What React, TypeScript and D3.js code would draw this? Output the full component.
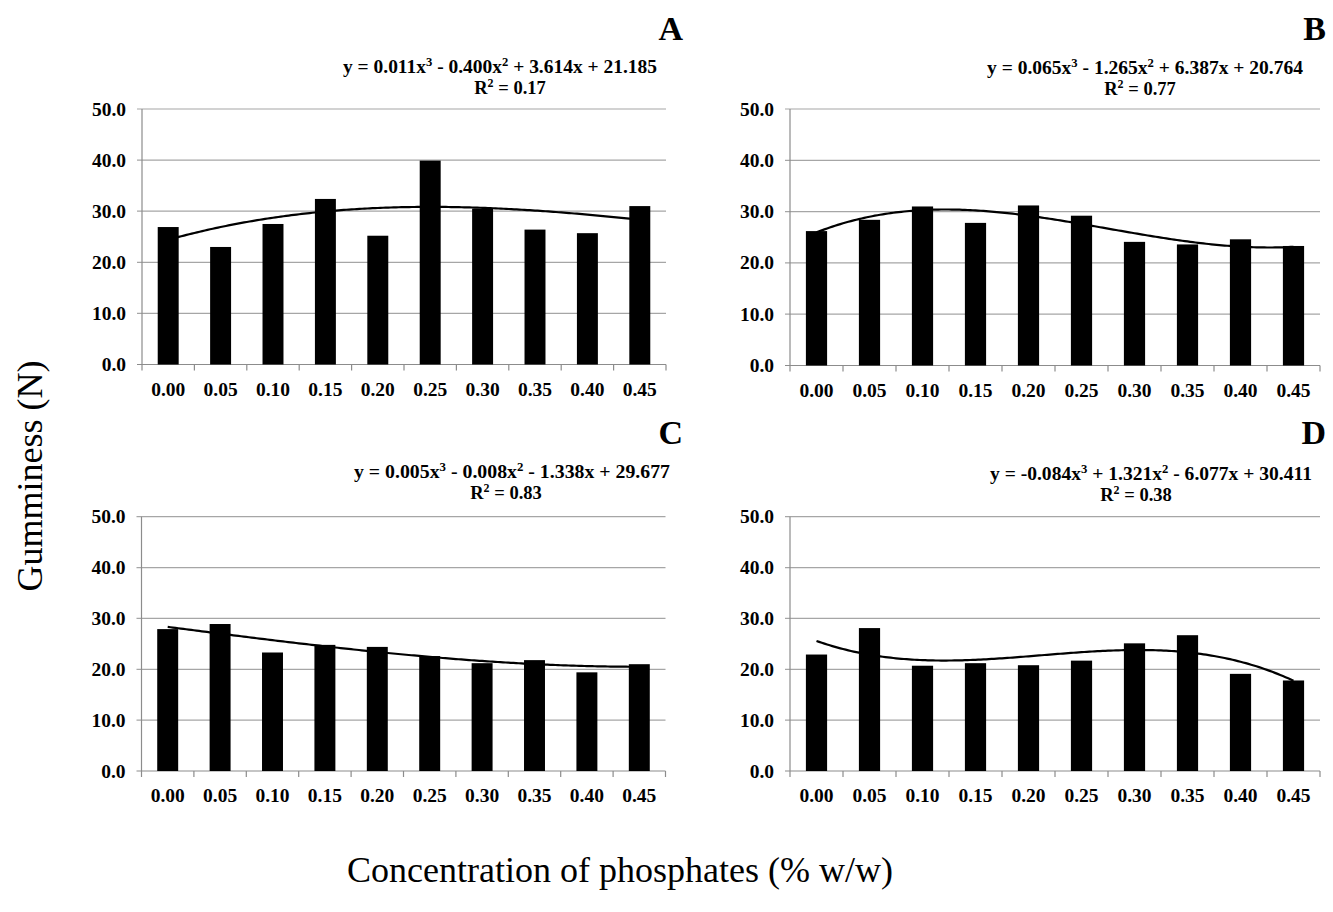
import React from "react";
import * as d3 from "d3";

const categories = ["0.00", "0.05", "0.10", "0.15", "0.20", "0.25", "0.30", "0.35", "0.40", "0.45"];
const yTicks = [0, 10, 20, 30, 40, 50];

const valuesA = [26.9, 23.0, 27.5, 32.4, 25.2, 39.9, 30.5, 26.4, 25.7, 31.0];
const valuesB = [26.2, 28.4, 31.0, 27.8, 31.2, 29.2, 24.1, 23.6, 24.6, 23.3];
const valuesC = [27.9, 28.9, 23.3, 24.8, 24.4, 22.6, 21.2, 21.8, 19.4, 21.0];
const valuesD = [22.9, 28.1, 20.7, 21.2, 20.8, 21.7, 25.1, 26.7, 19.1, 17.8];

// trendline coefficients [x^3, x^2, x, const], as printed in each panel
const coefA = [0.011, -0.4, 3.614, 21.185];
const coefB = [0.065, -1.265, 6.387, 20.764];
const coefC = [0.005, -0.008, -1.338, 29.677];
const coefD = [-0.084, 1.321, -6.077, 30.411];

const panelLetters = ["A", "B", "C", "D"];
const eqParts = [
  ["y = 0.011x", "3", " - 0.400x", "2", " + 3.614x + 21.185"],
  ["y = 0.065x", "3", " - 1.265x", "2", " + 6.387x + 20.764"],
  ["y = 0.005x", "3", " - 0.008x", "2", " - 1.338x + 29.677"],
  ["y = -0.084x", "3", " + 1.321x", "2", " - 6.077x + 30.411"],
];
const r2Labels = ["0.17", "0.77", "0.83", "0.38"];

const seriesValues = [valuesA, valuesB, valuesC, valuesD];
const coefs = [coefA, coefB, coefC, coefD];

// layout (positions only)
const layouts = [
  { left: 142, right: 666, top: 109, bottom: 364.5, eqX: 500, eqY: 73, eqW: 314, r2X: 510, r2Y: 94, letterX: 683, letterY: 40 },
  { left: 790, right: 1320, top: 109, bottom: 365.5, eqX: 1145, eqY: 74, eqW: 316, r2X: 1140, r2Y: 95, letterX: 1326, letterY: 40 },
  { left: 141.5, right: 665.5, top: 516.7, bottom: 771, eqX: 512, eqY: 478, eqW: 316, r2X: 506, r2Y: 499, letterX: 683, letterY: 444 },
  { left: 790, right: 1320, top: 516.7, bottom: 771, eqX: 1151, eqY: 480, eqW: 322, r2X: 1136, r2Y: 501, letterX: 1326, letterY: 444 },
];

const serif = "'Liberation Serif', 'Times New Roman', serif";

function Panel({ idx }: { idx: number }) {
  const L = layouts[idx];
  const values = seriesValues[idx];
  const coef = coefs[idx];
  const x = d3.scaleBand<string>().domain(categories).range([L.left, L.right]).paddingInner(0.6).paddingOuter(0.3);
  const y = d3.scaleLinear().domain([0, 50]).range([L.bottom, L.top]);
  const step = x.step();
  const xi = d3.scaleLinear().domain([1, categories.length]).range([
    (x(categories[0]) as number) + x.bandwidth() / 2,
    (x(categories[categories.length - 1]) as number) + x.bandwidth() / 2,
  ]);
  const pts: [number, number][] = d3.range(1, 10.0001, 0.05).map((t) => {
    const v = coef[0] * t * t * t + coef[1] * t * t + coef[2] * t + coef[3];
    return [xi(t), y(v)];
  });
  const line = d3.line().curve(d3.curveLinear)(pts) || "";
  const boundaries = d3.range(categories.length + 1).map((i) => L.left + i * step);
  const eq = eqParts[idx];
  return (
    <g>
      {yTicks.map((t) => (
        <g key={t}>
          <line x1={L.left - 5} x2={L.right} y1={y(t)} y2={y(t)} stroke={t === 0 ? "#8c8c8c" : "#a6a6a6"} strokeWidth={1.2} />
          <text x={L.left - 16} y={y(t) + 6.5} textAnchor="end" fontFamily={serif} fontWeight="bold" fontSize={19.5}>
            {t.toFixed(1)}
          </text>
        </g>
      ))}
      <line x1={L.left} x2={L.left} y1={L.top} y2={L.bottom} stroke="#8c8c8c" strokeWidth={1.2} />
      {boundaries.map((b, i) => (
        <line key={i} x1={b} x2={b} y1={L.bottom} y2={L.bottom + 6} stroke="#8c8c8c" strokeWidth={1.2} />
      ))}
      {values.map((v, i) => (
        <rect key={i} x={x(categories[i])} y={y(v)} width={x.bandwidth()} height={y(0) - y(v)} fill="#000" />
      ))}
      <path d={line} fill="none" stroke="#000" strokeWidth={2.2} />
      {categories.map((c) => (
        <text key={c} x={(x(c) as number) + x.bandwidth() / 2} y={L.bottom + 31} textAnchor="middle" fontFamily={serif} fontWeight="bold" fontSize={19.5}>
          {c}
        </text>
      ))}
      <text x={L.eqX} y={L.eqY} textAnchor="middle" fontFamily={serif} fontWeight="bold" fontSize={18.5} textLength={L.eqW} lengthAdjust="spacingAndGlyphs">
        {eq[0]}
        <tspan fontSize={12} dy={-7}>{eq[1]}</tspan>
        <tspan dy={7}>{eq[2]}</tspan>
        <tspan fontSize={12} dy={-7}>{eq[3]}</tspan>
        <tspan dy={7}>{eq[4]}</tspan>
      </text>
      <text x={L.r2X} y={L.r2Y} textAnchor="middle" fontFamily={serif} fontWeight="bold" fontSize={18.5}>
        R<tspan fontSize={12} dy={-7}>2</tspan>
        <tspan dy={7}> = {r2Labels[idx]}</tspan>
      </text>
      <text x={L.letterX} y={L.letterY} textAnchor="end" fontFamily={serif} fontWeight="bold" fontSize={34}>
        {panelLetters[idx]}
      </text>
    </g>
  );
}

export default function App() {
  return (
    <svg width={1333} height={912} style={{ position: "absolute", left: 0, top: 0, background: "#fff" }}>
      <rect width={1333} height={912} fill="#fff" />
      {[0, 1, 2, 3].map((i) => (
        <Panel key={i} idx={i} />
      ))}
      <text x={0} y={0} transform="translate(42,476) rotate(-90)" textAnchor="middle" fontFamily={serif} fontSize={36}>
        Gumminess (N)
      </text>
      <text x={620} y={882} textAnchor="middle" fontFamily={serif} fontSize={36}>
        Concentration of phosphates (% w/w)
      </text>
    </svg>
  );
}
